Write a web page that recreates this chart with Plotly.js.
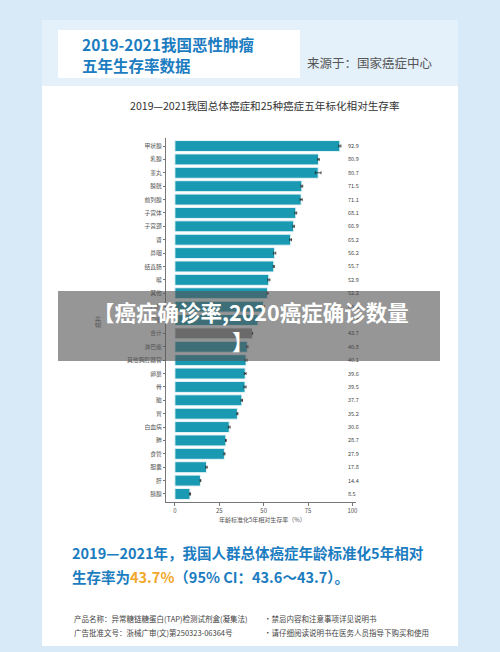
<!DOCTYPE html>
<html>
<head>
<meta charset="utf-8">
<script src="https://cdn.plot.ly/plotly-3.0.1.min.js"></script>
<style>html,body{margin:0;padding:0;background:#d8eaf8;}#chart{width:500px;height:652px;}</style>
</head>
<body>
<div id="chart"></div>
<script>
// ---- data ----
const categories = ["甲状腺","乳腺","睾丸","膀胱","前列腺","子宫体","子宫颈","肾","鼻咽","结直肠","喉","其他","口腔","口咽","合计","淋巴瘤","其他胸腔器官","卵巢","骨","脑","胃","白血病","肺","食管","胆囊","肝","胰腺"];
const survival = [92.9,80.9,80.7,71.5,71.1,68.1,66.9,65.2,56.2,55.7,52.9,52.2,49.9,46.8,43.7,40.8,40.1,39.6,39.5,37.7,35.2,30.6,28.7,27.9,17.8,14.4,8.5];
const ciHalf = [0.6,0.4,1.6,0.5,0.6,0.5,0.4,0.5,0.6,0.3,0.6,0.3,0.5,0.5,0.1,0.4,0.6,0.5,0.6,0.4,0.3,0.5,0.2,0.3,0.4,0.2,0.3];
const totalLabel = "合计";
const xTicks = [0,25,50,75,100];

// ---- helpers (pixel -> paper) ----
const W = 500, H = 652;
const px = v => v / W;
const py = v => 1 - v / H;
const font = '"Noto Sans CJK SC", "Noto Sans", sans-serif';

const barColors = categories.map(c => c === totalLabel ? "#8c8c8c" : "#1a9ab2");

const trace = {
  type: "bar",
  orientation: "h",
  y: categories,
  x: survival,
  width: 0.82,
  marker: {color: barColors, line: {color: "#e8f4f7", width: 1}},
  error_x: {type: "data", array: ciHalf, visible: true, color: "#222", thickness: 0.8, width: 1.5},
  hoverinfo: "x+y"
};

const annotations = [];
// value labels
categories.forEach((c, i) => {
  annotations.push({
    x: 96.3, y: c, xref: "x", yref: "y", text: survival[i].toFixed(1),
    showarrow: false, xanchor: "left", font: {family: font, size: 5.5, color: "#444"}
  });
});
// header title
annotations.push({x: px(80), y: py(44), xref: "paper", yref: "paper", xanchor: "left", yanchor: "middle",
  text: "<b>2019-2021我国恶性肿瘤</b>", showarrow: false, font: {family: font, size: 15.5, color: "#1b7cc0"}});
annotations.push({x: px(80), y: py(65), xref: "paper", yref: "paper", xanchor: "left", yanchor: "middle",
  text: "<b>五年生存率数据</b>", showarrow: false, font: {family: font, size: 15.5, color: "#1b7cc0"}});
annotations.push({x: px(305), y: py(62), xref: "paper", yref: "paper", xanchor: "left", yanchor: "middle",
  text: "来源于：国家癌症中心", showarrow: false, font: {family: font, size: 12.5, color: "#555"}});
// chart title
annotations.push({x: px(265), y: py(106), xref: "paper", yref: "paper", xanchor: "center", yanchor: "middle",
  text: "2019—2021我国总体癌症和25种癌症五年标化相对生存率", showarrow: false, font: {family: font, size: 10.6, color: "#333"}});
// x-axis title
annotations.push({x: px(262), y: py(519), xref: "paper", yref: "paper", xanchor: "center", yanchor: "middle",
  text: "年龄标准化5年相对生存率（%）", showarrow: false, font: {family: font, size: 6, color: "#555"}});
// y-axis title
annotations.push({x: px(97), y: py(322), xref: "paper", yref: "paper", xanchor: "center", yanchor: "middle",
  text: "癌种", textangle: -90, showarrow: false, font: {family: font, size: 6, color: "#555"}});
// bottom statement
annotations.push({x: px(70), y: py(552), xref: "paper", yref: "paper", xanchor: "left", yanchor: "middle",
  text: "<b>2019—2021年，我国人群总体癌症年龄标准化5年相对</b>", showarrow: false, font: {family: font, size: 14.5, color: "#1b7cc0"}});
annotations.push({x: px(70), y: py(576), xref: "paper", yref: "paper", xanchor: "left", yanchor: "middle",
  text: "<b>生存率为<span style='color:#f3a72a'>43.7%</span>（95% CI：43.6～43.7）。</b>", showarrow: false, font: {family: font, size: 14.5, color: "#1b7cc0"}});
// footer small print
annotations.push({x: px(72), y: py(618), xref: "paper", yref: "paper", xanchor: "left", yanchor: "middle",
  text: "产品名称：异常糖链糖蛋白(TAP)检测试剂盒(凝集法)", showarrow: false, font: {family: font, size: 7.5, color: "#444"}});
annotations.push({x: px(72), y: py(632), xref: "paper", yref: "paper", xanchor: "left", yanchor: "middle",
  text: "广告批准文号：浙械广审(文)第250323-06364号", showarrow: false, font: {family: font, size: 7.5, color: "#444"}});
annotations.push({x: px(262), y: py(618), xref: "paper", yref: "paper", xanchor: "left", yanchor: "middle",
  text: "·禁忌内容和注意事项详见说明书", showarrow: false, font: {family: font, size: 7.5, color: "#444"}});
annotations.push({x: px(262), y: py(632), xref: "paper", yref: "paper", xanchor: "left", yanchor: "middle",
  text: "·请仔细阅读说明书在医务人员指导下购买和使用", showarrow: false, font: {family: font, size: 7.5, color: "#444"}});
// banner text
annotations.push({x: px(251), y: py(311), xref: "paper", yref: "paper", xanchor: "center", yanchor: "middle",
  text: "<b>【癌症确诊率,2020癌症确诊数量</b>", showarrow: false, font: {family: font, size: 21.5, color: "#ffffff"}});
annotations.push({x: px(243), y: py(340), xref: "paper", yref: "paper", xanchor: "center", yanchor: "middle",
  text: "<b>】</b>", showarrow: false, font: {family: font, size: 21.5, color: "#ffffff"}});

const shapes = [
  // white card
  {type: "rect", xref: "paper", yref: "paper", x0: px(42), x1: px(458), y0: py(646), y1: py(20),
   fillcolor: "#ffffff", line: {width: 0}, layer: "below"},
  // header band
  {type: "rect", xref: "paper", yref: "paper", x0: px(42), x1: px(458), y0: py(86), y1: py(20),
   fillcolor: "#e4f0fa", line: {width: 0}, layer: "below"},
  // header white box
  {type: "rect", xref: "paper", yref: "paper", x0: px(58), x1: px(300), y0: py(78), y1: py(30),
   fillcolor: "#ffffff", line: {width: 0}, layer: "below"},
  // banner overlay
  {type: "rect", xref: "paper", yref: "paper", x0: px(58), x1: px(440), y0: py(361), y1: py(291),
   fillcolor: "rgba(85,85,85,0.62)", line: {width: 0}, layer: "above"}
];

const layout = {
  width: W, height: H,
  margin: {l: 0, r: 0, t: 0, b: 0},
  paper_bgcolor: "#d8eaf8",
  plot_bgcolor: "rgba(0,0,0,0)",
  showlegend: false,
  bargap: 0.18,
  xaxis: {
    domain: [px(166), px(356)],
    range: [-5, 102],
    tickvals: xTicks,
    ticktext: xTicks.map(String),
    showgrid: false, zeroline: false,
    showline: true, linecolor: "#777", linewidth: 1,
    ticks: "outside", ticklen: 3, tickcolor: "#777",
    tickfont: {family: font, size: 6, color: "#555"}
  },
  yaxis: {
    domain: [py(502), py(138)],
    type: "category",
    autorange: false,
    range: [categories.length - 0.4, -0.6],
    showgrid: false, zeroline: false,
    showline: true, linecolor: "#777", linewidth: 1,
    ticks: "outside", ticklen: 2, tickcolor: "#777",
    tickfont: {family: font, size: 5.8, color: "#555"}
  },
  shapes: shapes,
  annotations: annotations
};

Plotly.newPlot("chart", [trace], layout, {displayModeBar: false, staticPlot: true});
</script>
</body>
</html>
